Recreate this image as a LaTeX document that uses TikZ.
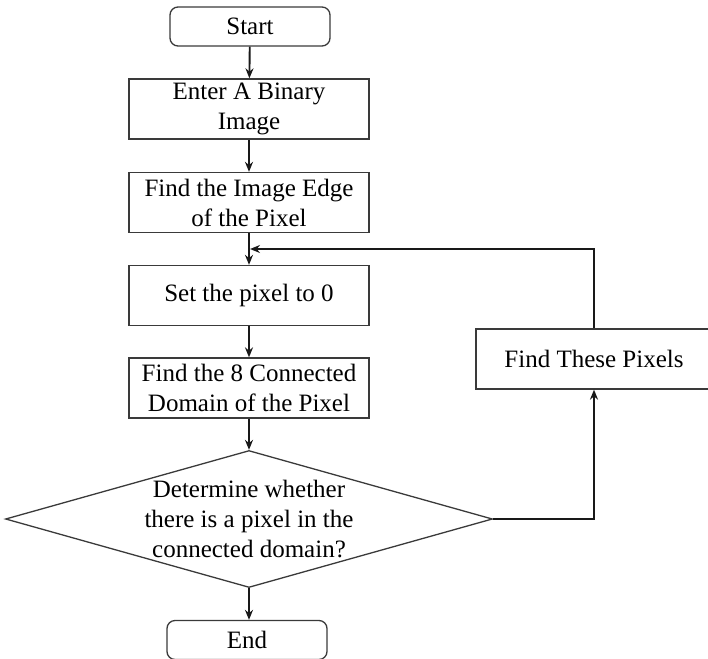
\documentclass[tikz,border=0pt]{standalone}
\usepackage{fontspec}
\setmainfont{Liberation Serif}
\usetikzlibrary{shapes.geometric,arrows.meta}
\definecolor{edgegray}{HTML}{3A3A3A}
\begin{document}
\begin{tikzpicture}[x=1pt,y=-1pt,
  every node/.style={font=\fontsize{25}{30}\selectfont, text=black},
  procbox/.style={draw=edgegray, line width=1.3pt, rectangle, inner sep=0pt,
    minimum width=240pt, minimum height=60pt, align=center},
  termbox/.style={draw=edgegray, line width=1.3pt, rectangle, rounded corners=8pt,
    inner sep=0pt, minimum width=160pt, minimum height=39pt},
  decision/.style={draw=edgegray, line width=1.3pt, diamond, inner sep=0pt,
    minimum width=487pt, minimum height=137pt},
  flow/.style={draw=black!90, line width=1.9pt, -{Stealth[length=10pt,width=8pt]}}]
\useasboundingbox (0,0) rectangle (708,658);

% main column
\node[termbox] (start) at (250,26.5) {Start};
\node[procbox] (input) at (249,109) {Enter A Binary\\Image};
\node[procbox] (edge) at (249,202.5) {Find the Image Edge\\of the Pixel};
\node[procbox] (zero) at (249,295.5) {Set the pixel to 0};
\node[procbox] (conn) at (249,388) {Find the 8 Connected\\Domain of the Pixel};
\node[decision] (dec) at (249,519) {};
\node[align=center] (dectext) at (249,519) {Determine whether\\there is a pixel in the\\connected domain?};
\node[termbox] (stop) at (247,640) {End};

% side branch
\node[procbox, minimum width=236pt] (find) at (594,359) {Find These Pixels};
\coordinate (join) at (250,249);

% connectors
\draw[flow] (start) -- (input);
\draw[flow] (input) -- (edge);
\draw[flow] (edge) -- (zero);
\draw[flow] (zero) -- (conn);
\draw[flow] (conn) -- (dec.north);
\draw[flow] (dec.south) -- (stop.north -| dec.south);
\draw[flow] (dec.east) -| (find.south);
\draw[flow] (find.north) |- (join);
\end{tikzpicture}
\end{document}
